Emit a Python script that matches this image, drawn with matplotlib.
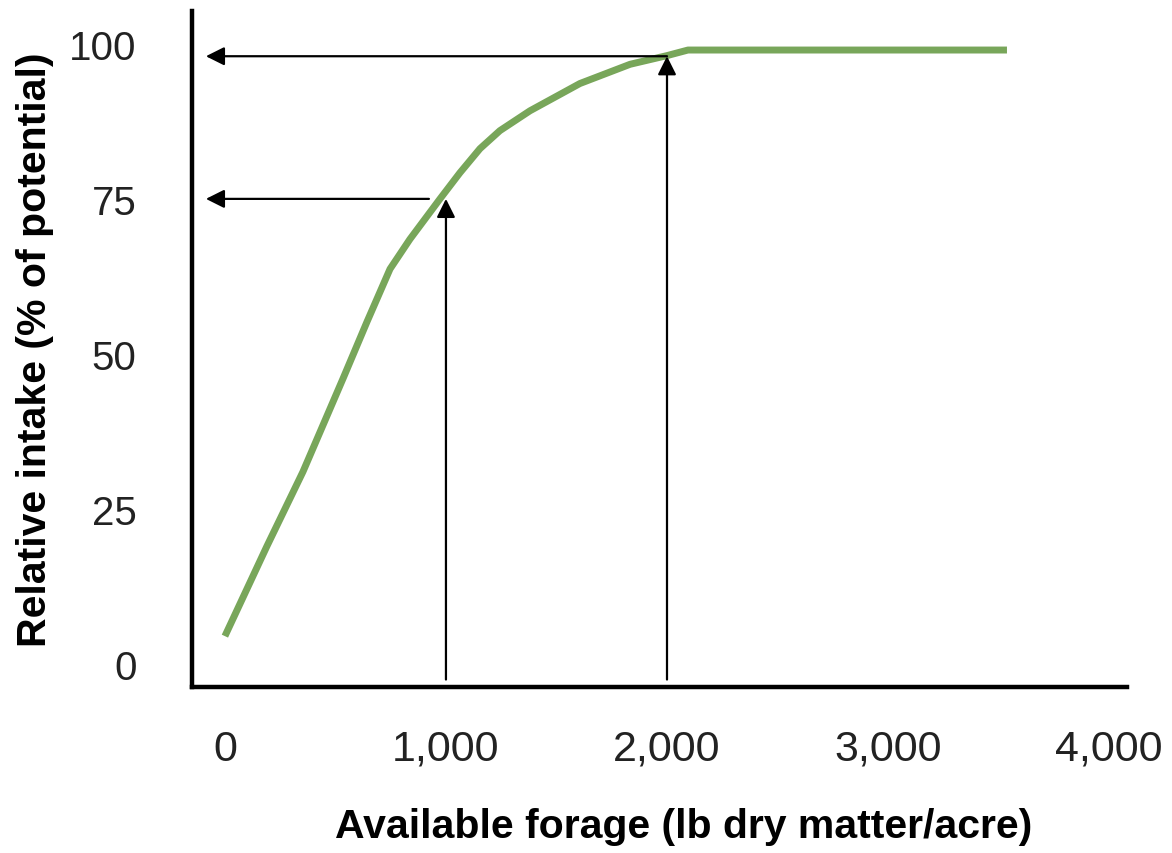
import numpy as np
import matplotlib.pyplot as plt

# curve
forage = [0, 190, 353, 534, 643, 747, 837, 973, 1063, 1154, 1244, 1380, 1606, 1833, 2000, 2095, 3538]
intake = [4.5, 19.0, 31.0, 46.0, 55.2, 63.7, 68.5, 75.0, 79.2, 83.1, 86.0, 89.2, 93.6, 96.7, 98.1, 99.0, 99.0]

x_ticks = [0, 1000, 2000, 3000, 4000]
x_labels = ['0', '1,000', '2,000', '3,000', '4,000']
y_ticks = [0, 25, 50, 75, 100]
y_labels = ['0', '25', '50', '75', '100']

# read-off arrows: forage level -> intake level
arrow_x = [1000, 2000]
arrow_y = [75, 98]
arrow_start_y = -2.5
arrow_end_x = -86
h_start_x = [923, 2000]

fig = plt.figure(figsize=(11.72, 8.54), dpi=100)
ax = fig.add_axes([0.1638, 0.1944, 0.9616 - 0.1638, 0.986 - 0.1944])

ax.plot(forage, intake, color='#78a65a', lw=5, solid_capstyle='butt',
        solid_joinstyle='round', zorder=3)

ap = dict(arrowstyle='-|>', color='black', lw=1.6, mutation_scale=28,
          shrinkA=0, shrinkB=0)
for i in range(len(arrow_x)):
    ax.annotate('', xy=(arrow_x[i], arrow_y[i]), xytext=(arrow_x[i], arrow_start_y),
                arrowprops=ap, zorder=4)
    ax.annotate('', xy=(arrow_end_x, arrow_y[i]), xytext=(h_start_x[i], arrow_y[i]),
                arrowprops=ap, zorder=4)

ax.set_xlim(-149, 4081)
ax.set_ylim(-3.7, 105.3)

for s in ['top', 'right']:
    ax.spines[s].set_visible(False)
for s in ['left', 'bottom']:
    ax.spines[s].set_linewidth(3.2)

ax.set_xticks(x_ticks)
ax.set_xticklabels(x_labels, family='Liberation Sans', fontsize=31, color='#222222')
ax.set_yticks(y_ticks)
ax.set_yticklabels(y_labels, family='Liberation Sans', fontsize=29, color='#222222')
ax.tick_params(axis='x', length=0, pad=30)
ax.tick_params(axis='y', length=0, pad=40)

ax.set_xlabel('Available forage (lb dry matter/acre)', family='Liberation Sans',
              fontsize=29.5, fontweight='bold')
ax.xaxis.set_label_coords(0.526, -0.178)
ax.set_ylabel('Relative intake (% of potential)', family='Liberation Sans',
              fontsize=29.5, fontweight='bold')
ax.yaxis.set_label_coords(-0.148, 0.5)

fig.savefig('out.png', dpi=100)
